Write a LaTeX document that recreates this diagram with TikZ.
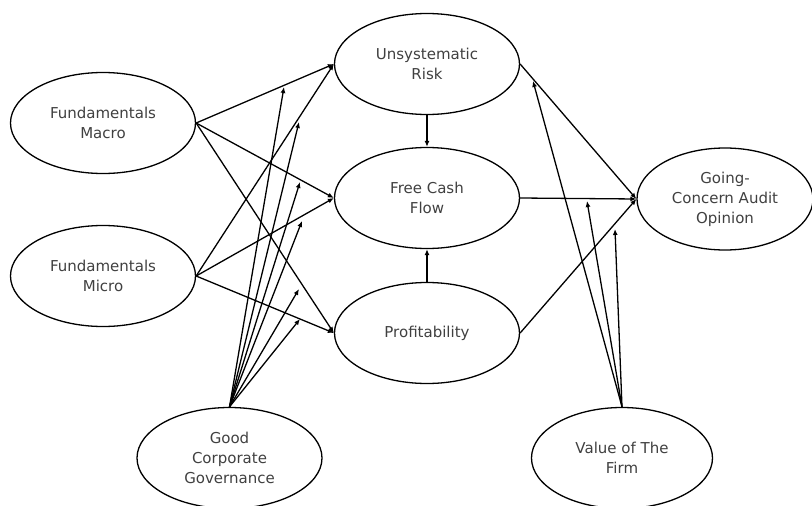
\documentclass[tikz,border=0pt]{standalone}
\usepackage{fontspec}
\setmainfont{DejaVu Sans}
\usetikzlibrary{arrows.meta,shapes.geometric}
\tikzset{
>={Latex[length=6pt,width=5pt]},
var node/.style={ellipse,draw,line width=1.3pt,minimum width=185pt,minimum height=101pt,inner sep=0pt,align=center,text=black!75,font=\fontsize{15}{20}\selectfont},
freccia/.style={->,line width=1.3pt}}

\begin{document}
\begin{tikzpicture}[x=1pt,y=-1pt]

\useasboundingbox (0,0) rectangle (812,506);

\node[var node] (macro) at (103,123) {Fundamentals\\Macro};
\node[var node] (micro) at (103,276) {Fundamentals\\Micro};
\node[var node] (ur) at (427,64) {Unsystematic\\Risk};
\node[var node] (fcf) at (427,198) {Free Cash\\Flow};
\node[var node] (prof) at (427,333) {Profitability};
\node[var node,minimum width=176pt,minimum height=102pt] (gco) at (725,199) {Going-\\Concern Audit\\Opinion};
\node[var node] (gcg) at (229.5,458) {Good\\Corporate\\Governance};
\node[var node,minimum width=181pt] (vf) at (622,458) {Value of The\\Firm};

% tips of the moderating arrows
\coordinate (g1) at (284,87);
\coordinate (g2) at (299,122);
\coordinate (g3) at (300,182);
\coordinate (g4) at (302,221);
\coordinate (g5) at (299,289);
\coordinate (g6) at (300,319);
\coordinate (v1) at (533,81);
\coordinate (v2) at (587,201);
\coordinate (v3) at (615,229);

\path[freccia] (macro.east) edge (ur.west);
\path[freccia] (macro.east) edge (fcf.west);
\path[freccia] (macro.east) edge (prof.west);

\path[freccia] (micro.east) edge (ur.west);
\path[freccia] (micro.east) edge (fcf.west);
\path[freccia] (micro.east) edge (prof.west);

\path[freccia] (ur.south) edge (fcf.north);
\path[freccia] (prof.north) edge (fcf.south);

\path[freccia] (ur.east) edge (gco.west);
\path[freccia] (fcf.east) edge (gco.west);
\path[freccia] (prof.east) edge (gco.west);

\path[freccia] (gcg.north) edge (g1);
\path[freccia] (gcg.north) edge (g2);
\path[freccia] (gcg.north) edge (g3);
\path[freccia] (gcg.north) edge (g4);
\path[freccia] (gcg.north) edge (g5);
\path[freccia] (gcg.north) edge (g6);

\path[freccia] (vf.north) edge (v1);
\path[freccia] (vf.north) edge (v2);
\path[freccia] (vf.north) edge (v3);

\end{tikzpicture}
\end{document}
